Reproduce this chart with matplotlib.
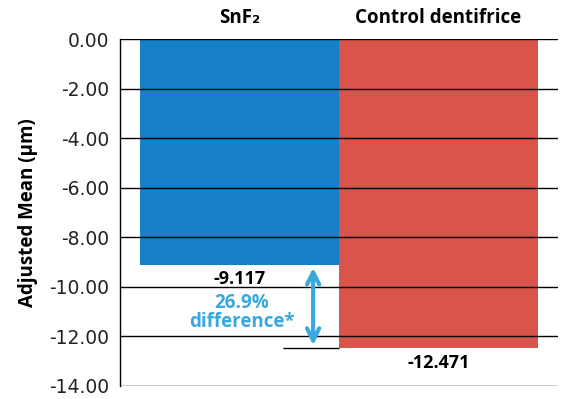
import matplotlib.pyplot as plt
import numpy as np

# Data
groups = ['SnF₂', 'Control dentifrice']
adjusted_mean = [-9.117, -12.471]
value_labels = ['-9.117', '-12.471']
bar_colors = ['#1580c8', '#d9544a']
y_ticks = np.arange(0, -15, -2)

plt.rcParams['font.family'] = ['Open Sans', 'DejaVu Sans']

fig = plt.figure(figsize=(5.8, 3.99), dpi=100)
ax = fig.add_axes([0.207, 0.033, 0.755, 0.869])

x = np.arange(len(groups))
ax.bar(x, adjusted_mean, width=1.0, color=bar_colors, zorder=1)

ax.set_xlim(-0.6, 1.6)
ax.set_ylim(-14, 0)
ax.set_yticks(y_ticks)
ax.set_yticklabels([f'{t:.2f}' for t in y_ticks], fontsize=13.5, color='#222222',
                   family='DejaVu Sans')
ax.set_xticks([])
ax.tick_params(axis='y', length=0, pad=8)

# horizontal lines over the bars
for t in y_ticks:
    ax.axhline(t, color='black', lw=1, zorder=3)
for s in ['top', 'right', 'bottom']:
    ax.spines[s].set_visible(False)
ax.spines['left'].set_linewidth(1)

ax.set_ylabel('Adjusted Mean (µm)', fontsize=13.5, fontweight='bold', labelpad=8)

# group labels on top
for xi, g in zip(x, groups):
    ax.text(xi, 0.45, g, ha='center', va='bottom', fontsize=13.5, fontweight='bold')

# value labels
ax.text(0, adjusted_mean[0] - 0.2, value_labels[0], ha='center', va='top',
        fontsize=13, fontweight='bold')
ax.text(1.0, adjusted_mean[1] - 0.25, value_labels[1], ha='center', va='top',
        fontsize=13, fontweight='bold')

# difference arrow
ax.hlines(adjusted_mean[1], 0.22, 0.5, color='black', lw=1, zorder=3)
ax.annotate('', xy=(0.37, adjusted_mean[1]), xytext=(0.37, adjusted_mean[0]),
            arrowprops=dict(arrowstyle='<->', color='#3aa8dc', lw=3,
                            mutation_scale=22), zorder=4)
ax.text(0.01, -11.05, '26.9%\ndifference*', ha='center', va='center',
        fontsize=13.5, fontweight='bold', color='#3aa8dc', linespacing=0.95)

fig.savefig('out.png', dpi=100)
